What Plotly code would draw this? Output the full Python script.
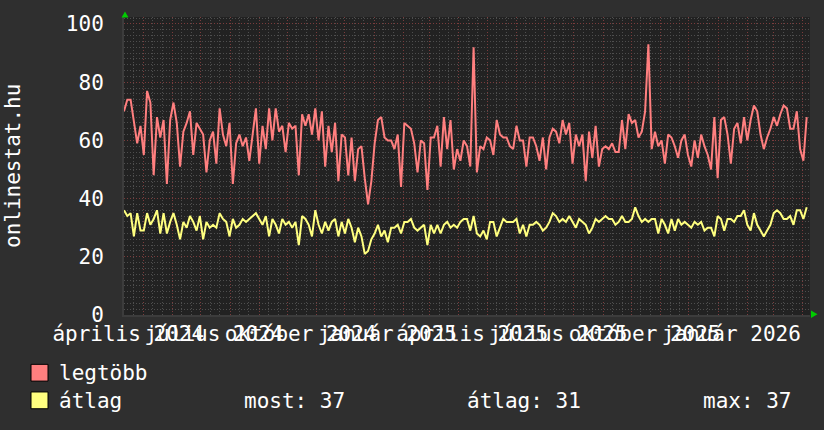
import numpy as np
import pandas as pd
import plotly.graph_objects as go

# ---------------- data ----------------
start_date = "2024-04-10 12:00"
sample_step_days = 3.5

legtobb = [
    70, 74, 74, 66, 59, 65, 55, 77, 73, 48, 68, 61, 67, 45, 67, 73, 66, 51, 63, 66, 70, 55, 66, 64, 62, 49, 60, 63, 52, 71, 62, 58, 66, 45, 59,
    62, 58, 61, 53, 62, 71, 52, 65, 57, 71, 60, 71, 63, 65, 56, 66, 64, 65, 48, 69, 65, 69, 62, 71, 60, 70, 51, 65, 56, 66, 46, 62, 61, 48, 61,
    46, 57, 58, 47, 38, 46, 59, 67, 68, 61, 60, 60, 57, 62, 44, 66, 65, 64, 59, 49, 60, 59, 43, 61, 61, 65, 51, 68, 57, 67, 50, 57, 53, 60,
    58, 51, 92, 49, 58, 57, 61, 60, 55, 67, 62, 61, 61, 58, 57, 65, 60, 60, 51, 61, 61, 58, 53, 61, 50, 61, 64, 63, 59, 67, 62, 66, 52, 62, 58,
    62, 46, 63, 54, 65, 51, 57, 58, 57, 59, 56, 56, 67, 57, 69, 66, 67, 61, 63, 70, 93, 57, 63, 58, 60, 52, 62, 61, 58, 54, 60, 62, 55, 51, 60,
    54, 62, 58, 55, 50, 68, 47, 67, 68, 62, 52, 64, 66, 59, 68, 60, 67, 72, 70, 62, 57, 61, 64, 68, 65, 69, 72, 71, 64, 64, 70, 57, 53, 68,
]
atlag = [
    36, 34, 35, 27, 35, 29, 29, 35, 31, 33, 36, 28, 35, 28, 32, 35, 31, 26, 32, 30, 34, 32, 29, 34, 26, 32, 30, 31, 30, 35, 33, 32, 27, 33, 30,
    31, 33, 32, 33, 34, 35, 33, 31, 34, 27, 33, 31, 28, 33, 31, 32, 30, 32, 24, 34, 33, 31, 27, 36, 31, 28, 32, 29, 32, 33, 27, 32, 28, 33, 30,
    25, 30, 27, 21, 22, 26, 28, 31, 27, 29, 25, 30, 30, 31, 28, 32, 32, 33, 30, 29, 30, 31, 24, 31, 28, 31, 28, 31, 32, 30, 31, 30, 32, 33,
    33, 29, 34, 28, 27, 29, 26, 32, 32, 27, 30, 33, 32, 32, 32, 33, 28, 31, 27, 31, 31, 32, 31, 29, 30, 32, 35, 34, 32, 33, 32, 34, 32, 30, 33,
    32, 31, 28, 30, 33, 32, 33, 34, 33, 33, 31, 32, 34, 32, 32, 33, 37, 34, 32, 33, 32, 33, 33, 28, 33, 31, 28, 33, 29, 33, 31, 32, 31, 30, 32,
    31, 32, 29, 30, 30, 27, 34, 33, 29, 33, 33, 32, 34, 34, 36, 31, 29, 35, 31, 29, 27, 29, 31, 35, 36, 35, 33, 33, 34, 31, 36, 36, 33, 37,
]
dates = pd.Timestamp(start_date) + pd.to_timedelta(np.arange(len(legtobb)) * sample_step_days, unit="D")

x_range = ["2024-04-10 12:00", "2026-04-08 12:00"]
label_dates = ["2024-04-15", "2024-07-15", "2024-10-15", "2025-01-15",
               "2025-04-15", "2025-07-15", "2025-10-15", "2026-01-15"]
label_texts = ["április 2024", "július 2024", "október 2024", "január 2025",
               "április 2025", "július 2025", "október 2025", "január 2026"]
y_ticks = [0, 20, 40, 60, 80, 100]
series_names = ["legtöbb", "átlag"]
stat_texts = ["most: 37", "átlag: 31", "max: 37"]
y_title = "onlinestat.hu"

# ---------------- styling ----------------
W, H = 824, 430
ML, MR, MT, MB = 124, 14, 13, 115
PW, PH = W - ML - MR, H - MT - MB
FONT = "DejaVu Sans Mono"
FS = 21
BG = "#2f2f2f"
PLOT_BG = "#222222"
MAJOR = "#7a3c3c"
MINOR = "#4e4e4e"
RED = "#ff7f7f"
YEL = "#ffff7f"
GREEN = "#00cc00"


def px(xp):
    return (xp - ML) / PW


def py(yp):
    return (H - MB - yp) / PH


month_starts = pd.date_range("2024-05-01", "2026-04-01", freq="MS")
minor_vals = []
for m in pd.date_range("2024-04-01", "2026-04-01", freq="MS"):
    for d in (10, 20):
        t = m + pd.Timedelta(days=d)
        if pd.Timestamp(x_range[0]) < t < pd.Timestamp(x_range[1]):
            minor_vals.append(t)

fig = go.Figure()
fig.add_trace(go.Scatter(x=dates, y=legtobb, mode="lines", name=series_names[0],
                         line=dict(color=RED, width=2), showlegend=False))
fig.add_trace(go.Scatter(x=dates, y=atlag, mode="lines", name=series_names[1],
                         line=dict(color=YEL, width=2), showlegend=False))
# helper trace so the label axis is rendered (draws nothing)
fig.add_trace(go.Scatter(x=label_dates, y=[0] * len(label_dates), mode="none",
                         xaxis="x2", yaxis="y", hoverinfo="skip", showlegend=False))

fig.update_layout(
    width=W, height=H,
    margin=dict(l=ML, r=MR, t=MT, b=MB),
    paper_bgcolor=BG, plot_bgcolor=PLOT_BG,
    font=dict(family=FONT, size=FS, color="#ffffff"),
    showlegend=False,
    xaxis=dict(
        type="date", range=x_range, tickmode="array", tickvals=month_starts,
        showticklabels=False, ticks="", showgrid=True, gridcolor=MAJOR,
        griddash="1px,2px", gridwidth=1, zeroline=False,
        showline=True, linecolor="#3c3c3c", linewidth=2, mirror=False,
        minor=dict(tickmode="array", tickvals=minor_vals, showgrid=True,
                   gridcolor=MINOR, griddash="1px,2px", gridwidth=1, ticks=""),
    ),
    xaxis2=dict(
        type="date", range=x_range, overlaying="x", anchor="y", side="bottom",
        tickmode="array", tickvals=label_dates, ticktext=label_texts,
        showgrid=False, zeroline=False, ticks="outside", ticklen=0,
        tickfont=dict(family=FONT, size=FS, color="#ffffff"),
        ticklabelstandoff=0, tickangle=0,
    ),
    yaxis=dict(
        range=[0, 102.4], tickmode="array", tickvals=y_ticks,
        showgrid=True, gridcolor=MAJOR, griddash="1px,2px", gridwidth=1,
        zeroline=False, ticks="", ticklabelstandoff=14,
        showline=True, linecolor="#3c3c3c", linewidth=2,
        tickfont=dict(family=FONT, size=FS, color="#ffffff"),
        minor=dict(dtick=2, showgrid=True, gridcolor=MINOR,
                   griddash="1px,2px", gridwidth=1, ticks=""),
    ),
)

ann = []
ann.append(dict(text=y_title, x=px(13), y=py(164), xref="paper", yref="paper",
                textangle=-90, showarrow=False, xanchor="center", yanchor="middle",
                font=dict(family=FONT, size=FS, color="#ffffff")))
ann.append(dict(text=series_names[0], x=px(57), y=py(374), xref="paper", yref="paper",
                showarrow=False, xanchor="left", yanchor="middle",
                font=dict(family=FONT, size=FS, color="#ffffff")))
ann.append(dict(text=series_names[1], x=px(57), y=py(402), xref="paper", yref="paper",
                showarrow=False, xanchor="left", yanchor="middle",
                font=dict(family=FONT, size=FS, color="#ffffff")))
for t, xx in zip(stat_texts, [242, 465, 701]):
    ann.append(dict(text=t, x=px(xx), y=py(402), xref="paper", yref="paper",
                    showarrow=False, xanchor="left", yanchor="middle",
                    font=dict(family=FONT, size=FS, color="#ffffff")))
fig.update_layout(annotations=ann)

shapes = [
    dict(type="rect", xref="paper", yref="paper", x0=px(31), x1=px(48), y0=py(365), y1=py(382),
         fillcolor=RED, line=dict(color="#000000", width=1)),
    dict(type="rect", xref="paper", yref="paper", x0=px(31), x1=px(48), y0=py(393), y1=py(410),
         fillcolor=YEL, line=dict(color="#000000", width=1)),
    dict(type="path", xref="paper", yref="paper",
         path=f"M {px(121.5)},{py(13.5)} L {px(128.5)},{py(13.5)} L {px(125)},{py(7.5)} Z",
         fillcolor=GREEN, line=dict(color=GREEN, width=0)),
    dict(type="path", xref="paper", yref="paper",
         path=f"M {px(811)},{py(310.5)} L {px(811)},{py(318)} L {px(817.5)},{py(314.2)} Z",
         fillcolor=GREEN, line=dict(color=GREEN, width=0)),
]
fig.update_layout(shapes=shapes)

fig.write_html("out.html", config={"displayModeBar": False},
               post_script="document.body.style.margin='0';")
